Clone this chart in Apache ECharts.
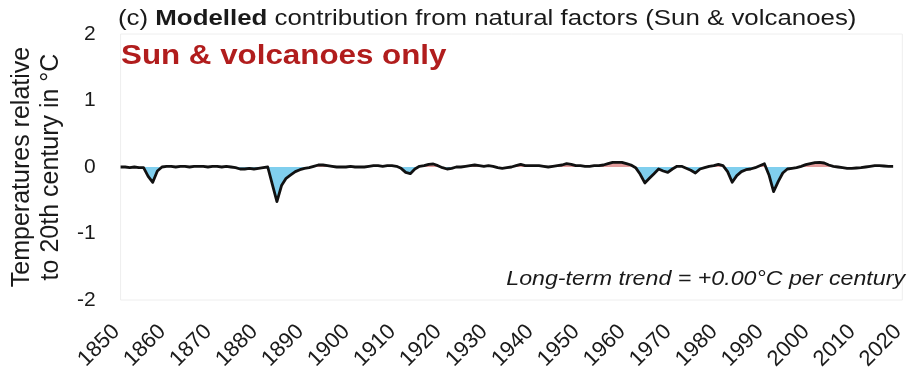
<!DOCTYPE html>
<html>
<head>
<meta charset="utf-8">
<script src="https://cdn.jsdelivr.net/npm/echarts@6/dist/echarts.min.js"></script>
<style>
  html, body { margin: 0; padding: 0; background: #fff; }
  #chart { width: 908px; height: 390px; }
</style>
</head>
<body>
<div id="chart"></div>
<script>
// Modelled temperature response to natural forcings (solar + volcanic), °C vs 20th-century mean
const years = [];
for (let y = 1850; y <= 2018; y++) years.push(y);

const anomaly = [
  // 1850-1859
  0.00, 0.00, -0.01, 0.00, -0.01, -0.01, -0.14, -0.23, -0.06, 0.00,
  // 1860-1869
  0.01, 0.01, 0.00, 0.01, 0.01, 0.00, 0.01, 0.01, 0.01, 0.00,
  // 1870-1879
  0.01, 0.01, 0.00, 0.01, 0.00, -0.01, -0.03, -0.03, -0.02, -0.03,
  // 1880-1889
  -0.02, -0.01, 0.00, -0.26, -0.52, -0.28, -0.17, -0.12, -0.07, -0.04,
  // 1890-1899
  -0.02, -0.01, 0.01, 0.03, 0.03, 0.02, 0.01, 0.00, 0.00, 0.00,
  // 1900-1909
  0.01, 0.00, 0.00, 0.00, 0.01, 0.02, 0.02, 0.01, 0.02, 0.02,
  // 1910-1919
  0.01, -0.02, -0.08, -0.10, -0.03, 0.01, 0.02, 0.04, 0.045, 0.02,
  // 1920-1929
  -0.01, -0.03, -0.02, 0.00, 0.00, 0.01, 0.02, 0.03, 0.02, 0.01,
  // 1930-1939
  0.02, 0.01, -0.01, -0.02, -0.01, 0.00, 0.02, 0.04, 0.02, 0.02,
  // 1940-1949
  0.02, 0.02, 0.01, 0.00, 0.01, 0.02, 0.03, 0.05, 0.04, 0.02,
  // 1950-1959
  0.02, 0.01, 0.01, 0.02, 0.02, 0.03, 0.05, 0.07, 0.07, 0.07,
  // 1960-1969
  0.05, 0.03, -0.01, -0.11, -0.24, -0.17, -0.10, -0.03, -0.06, -0.08,
  // 1970-1979
  -0.03, 0.01, 0.01, -0.02, -0.05, -0.09, -0.03, -0.01, 0.01, 0.02,
  // 1980-1989
  0.04, 0.02, -0.07, -0.23, -0.13, -0.07, -0.04, -0.03, -0.01, 0.02,
  // 1990-1999
  0.05, -0.12, -0.37, -0.22, -0.09, -0.03, -0.02, -0.01, 0.01, 0.035,
  // 2000-2009
  0.05, 0.065, 0.07, 0.06, 0.03, 0.01, 0.00, -0.01, -0.02, -0.02,
  // 2010-2018
  -0.015, -0.01, 0.00, 0.01, 0.02, 0.02, 0.015, 0.01, 0.01
];

const yTicks = [-2, -1, 0, 1, 2];
const xTicks = [1850, 1860, 1870, 1880, 1890, 1900, 1910, 1920, 1930,
                1940, 1950, 1960, 1970, 1980, 1990, 2000, 2010, 2020];

const points = years.map((y, i) => [y, anomaly[i]]);
const FONT = 'Liberation Sans, Arial, sans-serif';
const WARM = '#e39c9c';
const COOL = '#80cfee';
const TEXT = '#1a1a1a';
const WIDEN = 1.16;   // slightly widened lettering for the headings

const chart = echarts.init(document.getElementById('chart'), null, { renderer: 'canvas' });

chart.setOption({
  animation: false,
  backgroundColor: '#ffffff',
  grid: {
    left: 116, right: 4, top: 34, bottom: 90,
    show: true, borderColor: '#eeeeee', borderWidth: 1, backgroundColor: 'transparent'
  },
  graphic: [
    {
      type: 'text', x: 118, y: 8, scaleX: 1.175,
      style: {
        text: '(c) {b|Modelled} contribution from natural factors (Sun & volcanoes)',
        font: '22px ' + FONT, fill: TEXT,
        rich: { b: { font: 'bold 22px ' + FONT, fill: TEXT } }
      }
    },
    {
      type: 'text', x: 121, y: 43, scaleX: WIDEN,
      style: { text: 'Sun & volcanoes only', font: 'bold 27px ' + FONT, fill: '#b11d1d' }
    },
    {
      type: 'text', x: 905, y: 269, scaleX: WIDEN,
      style: { text: 'Long-term trend = +0.00°C per century', font: 'italic 20px ' + FONT, fill: TEXT, align: 'right' }
    }
  ],
  xAxis: {
    type: 'value', min: xTicks[0], max: xTicks[xTicks.length - 1], interval: 10,
    axisLine: { show: false }, axisTick: { show: false }, splitLine: { show: false },
    axisLabel: {
      rotate: 45, margin: 24, padding: [0, 6, 0, 0],
      fontFamily: FONT, fontSize: 22, color: TEXT,
      formatter: v => String(v)
    }
  },
  yAxis: {
    type: 'value', min: yTicks[0], max: yTicks[yTicks.length - 1], interval: 1,
    name: 'Temperatures relative\nto 20th century in °C',
    nameLocation: 'middle', nameRotate: 90, nameGap: 52,
    nameTextStyle: { fontFamily: FONT, fontSize: 25, color: TEXT, lineHeight: 29 },
    axisLine: { show: false }, axisTick: { show: false }, splitLine: { show: false },
    axisLabel: {
      margin: 25, fontFamily: FONT, fontSize: 21, color: TEXT,
      formatter: v => String(v)
    }
  },
  series: [
    {
      // shaded area between the curve and zero
      type: 'line', data: points, symbol: 'none',
      lineStyle: { width: 0 },
      areaStyle: { origin: 0, opacity: 1, color: COOL },
      z: 1
    },
    {
      type: 'line', data: points, symbol: 'none',
      lineStyle: { width: 2.8, color: '#111111', join: 'round' },
      z: 2
    }
  ]
});

// warm fill above the zero line, cool fill below it
const zeroY = chart.convertToPixel({ gridIndex: 0 }, [xTicks[0], 0])[1];
const H = chart.getHeight();
const split = zeroY / H;
chart.setOption({
  series: [{
    areaStyle: {
      color: new echarts.graphic.LinearGradient(0, 0, 0, H, [
        { offset: 0, color: WARM },
        { offset: split, color: WARM },
        { offset: split, color: COOL },
        { offset: 1, color: COOL }
      ], true)
    }
  }]
});
</script>
</body>
</html>
